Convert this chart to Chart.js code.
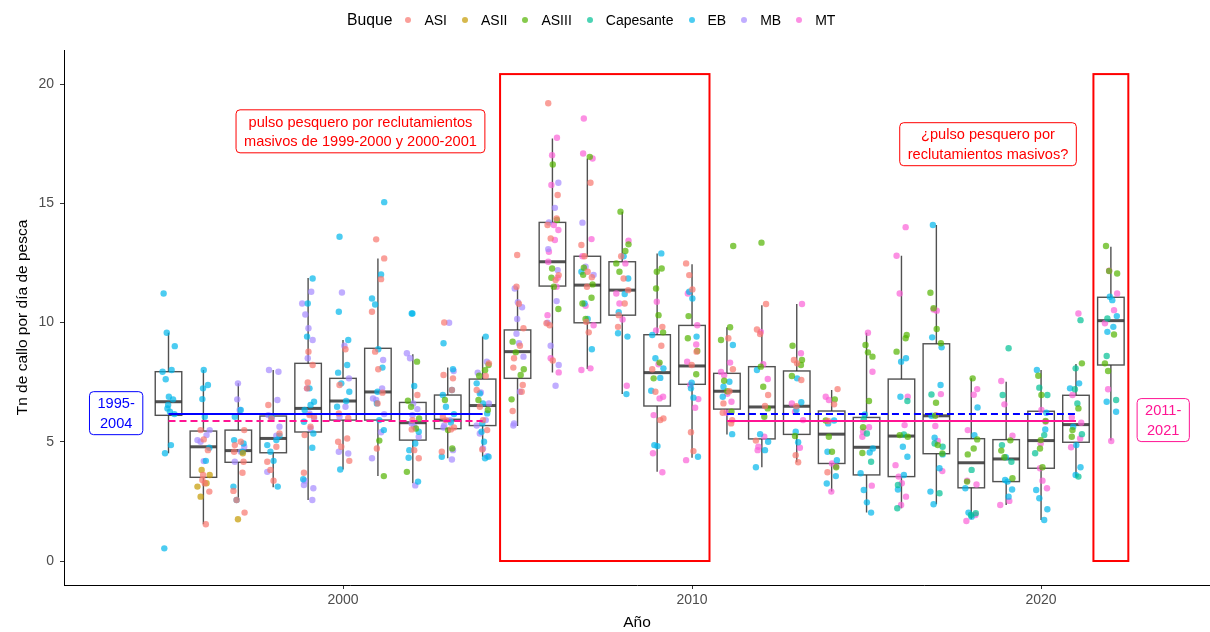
<!DOCTYPE html>
<html>
<head>
<meta charset="utf-8">
<script src="https://cdn.jsdelivr.net/npm/chart.js@4.4.1/dist/chart.umd.min.js"></script>
<style>
  body { margin: 0; background: #fff; font-family: "Liberation Sans", Arial, sans-serif; }
  #wrap { position: relative; width: 1210px; height: 632px; }
  #legend { position: absolute; top: 11px; left: 347px; display: flex; align-items: center; font-size: 14px; color: #000; white-space: nowrap; }
  #legend .ttl { margin-right: 13px; font-size: 15.7px; }
  #legend .dot { width: 6px; height: 6px; border-radius: 50%; margin-right: 13px; }
  #legend .lab { margin-right: 15px; }
</style>
</head>
<body>
<div id="wrap">
  <canvas id="chart" width="1210" height="632"></canvas>
  <div id="legend"></div>
</div>
<script>
// --- datos ---
const VESSELS = ['ASI', 'ASII', 'ASIII', 'Capesante', 'EB', 'MB', 'MT'];
const COLORS = ['#F8766D', '#C49A00', '#53B400', '#00C094', '#00B6EB', '#A58AFF', '#FB61D7'];

const YEARS = [1995,1996,1997,1998,1999,2000,2001,2002,2003,2004,2005,2006,2007,2008,2009,2010,2011,2012,2013,2014,2015,2016,2017,2018,2019,2020,2021,2022];
const W_LO = [4.52,1.54,2.56,3.09,2.56,3.84,3.56,3.26,4.31,4.37,5.66,7.91,8.05,7.0,3.74,4.33,5.31,3.93,4.14,2.91,2.03,2.21,2.38,1.75,2.35,1.72,3.54,5.05];
const Q1 = [6.11,3.51,4.14,4.54,5.41,5.91,5.91,5.07,5.55,5.68,7.66,11.53,9.99,10.31,6.5,7.41,6.37,5.12,5.31,4.09,3.61,3.54,4.50,3.07,3.33,3.89,4.98,8.22];
const MED = [6.68,4.79,4.63,5.14,6.4,6.71,7.09,5.80,5.91,6.52,8.78,12.55,11.57,11.36,7.90,8.18,7.12,6.46,6.49,5.32,4.77,5.24,6.09,4.12,4.28,5.05,5.72,10.08];
const Q3 = [7.94,5.45,5.49,6.08,8.29,7.66,8.92,6.65,6.96,7.63,9.69,14.2,12.78,12.55,9.49,9.88,7.87,8.15,7.97,6.29,6.02,7.63,9.11,5.13,5.09,6.28,6.95,11.06];
const W_HI = [9.57,8.01,7.45,8.01,11.87,9.27,12.69,8.67,8.11,9.41,11.47,17.72,16.88,14.65,12.9,12.45,9.80,10.73,10.78,7.17,9.57,12.80,14.09,7.66,7.52,8.01,8.26,13.18];

const ASI = [
  [1996,[5.49,5.1,4.65,3.61,3.4,3.26,2.91,1.54]],
  [1997,[5.49,5.0,4.86,4.58,4.16,3.70,2.94,2.56,2.03]],
  [1998,[6.54,5.98,5.35,4.79,4.16,3.82,3.37]],
  [1999,[8.78,8.22,7.49,7.24,6.12,6.05,5.63,5.28,3.70]],
  [2000,[8.88,7.38,6.19,6.0,5.14,5.0,4.79,4.2]],
  [2001,[13.49,12.69,11.82,10.45,8.78,8.04,7.06,6.61,4.72]],
  [2002,[6.96,5.91,5.52,4.65,4.31]],
  [2003,[10.0,7.8,7.66,7.17,6.05,5.91,5.60,5.52,4.58]],
  [2004,[8.29,7.76,7.17,6.47,5.91,5.49,4.68]],
  [2005,[12.83,11.5,10.79,9.76,9.03,8.5,8.11,7.38,7.10,6.29]],
  [2006,[19.2,15.35,14.37,14.09,13.53,11.99,11.78,9.97,9.89,8.41]],
  [2007,[15.86,13.25,12.78,12.13,11.9,11.5,10.03,9.59]],
  [2008,[12.78,11.85,11.36,10.8,10.31,9.82]],
  [2009,[9.82,9.03,8.04,7.10,5.98,5.91]],
  [2010,[12.48,11.99,11.39,8.78,8.22,5.40,4.61]],
  [2011,[9.34,8.04,7.12,6.61,6.22,5.91,5.77]],
  [2012,[10.78,9.71,9.52,6.96,6.50,5.05]],
  [2013,[8.43,8.29,7.59,6.49,4.44,4.14]],
  [2014,[7.21,6.57,5.87,3.72]]
];
const ASII = [
  [1996,[3.82,3.61,3.26,3.12,2.70]],
  [1997,[4.52,1.75]]
];
const ASIII = [
  [2001,[5.05,3.56]],
  [2002,[8.36,6.72,6.47,5.98,5.56,3.74]],
  [2003,[6.75,5.49,4.72]],
  [2004,[8.22,8.0,7.77,6.75,6.33]],
  [2005,[9.2,8.75,8.04,7.8,6.78]],
  [2006,[16.63,14.3,12.27,11.88,11.5,10.57]],
  [2007,[16.95,12.3,12.0,11.6,11.04,10.8,10.15]],
  [2008,[14.65,13.28,13.0,12.48,12.13]],
  [2009,[12.27,12.13,11.43,10.31,9.59,8.32,7.66]],
  [2010,[10.27,9.34,8.81,7.83]],
  [2011,[13.21,9.80,9.27,7.56,7.12,6.26]],
  [2012,[13.35,8.15,7.31,6.40,6.05]],
  [2013,[9.03,8.43,8.22,7.76,5.24]],
  [2014,[6.78,5.89,5.21,4.58,3.93]],
  [2015,[9.06,8.75,8.57,6.71,5.61,4.53]],
  [2016,[9.48,9.34,8.78,5.28,5.21]],
  [2017,[11.25,10.6,9.73,9.13,6.64,6.09,4.86,4.51]],
  [2018,[7.66,5.10,4.72,4.47,3.33]],
  [2019,[5.06,4.63,4.35,3.47]],
  [2020,[7.77,6.96,5.87,5.07,4.72,3.93]],
  [2021,[8.29,6.40,5.49,5.21]],
  [2022,[13.21,12.16,12.06,9.5,8.29,7.97]]
];
const CAPESANTE = [
  [2015,[5.95,5.35,4.16]],
  [2016,[6.71,5.31,3.19,2.21]],
  [2017,[6.98,4.93,4.79,2.84]],
  [2018,[3.82,2.0,1.93]],
  [2019,[8.92,6.96,4.86,4.16]],
  [2020,[7.27,6.96,5.28,4.52]],
  [2021,[10.1,8.08,7.20,6.61,5.32,3.54]],
  [2022,[10.17,8.6,6.75]]
];
const EB = [
  [1995,[11.22,9.57,9.01,8.01,7.94,7.62,6.89,6.78,6.54,6.40,6.26,6.16,4.86,4.52,0.53]],
  [1996,[8.01,7.38,7.24,6.79,6.05,4.75,4.2]],
  [1997,[6.33,6.05,5.07,4.93,4.58,3.12,2.56]],
  [1998,[6.05,5.25,5.07,4.86,4.58,4.2,3.12]],
  [1999,[11.85,10.8,9.41,7.24,6.68,6.54,6.33,5.84,5.35,4.75,3.43]],
  [2000,[13.6,10.45,9.27,8.22,7.90,7.45,7.10,6.71,6.47,3.84]],
  [2001,[15.05,12.02,11.01,10.76,8.88,8.11,7.10,6.61,5.91,5.49]],
  [2002,[10.38,10.38,7.34,5.42,4.93,4.65,4.33,3.33]],
  [2003,[9.13,8.04,7.17,6.96,6.47,6.16,5.81,4.37]],
  [2004,[9.41,7.45,7.03,6.61,6.19,5.77,5.42,5.0,4.37,4.31]],
  [2007,[12.13,10.8,10.15,8.88]],
  [2008,[12.78,11.85,11.2,10.43,9.55,9.41,7.0]],
  [2009,[12.9,9.48,8.5,8.08,7.68,7.14,4.86,4.82]],
  [2010,[11.29,11.01,9.41,7.48,7.24,6.85,4.37]],
  [2011,[9.06,7.52,7.31,6.89,5.32]],
  [2012,[8.01,5.32,5.0,4.65,3.93]],
  [2013,[7.66,6.66,6.33,5.42,4.98]],
  [2014,[5.89,5.77,4.58,4.23,3.56,3.25]],
  [2015,[6.15,4.72,4.55,3.68,2.98,2.46,2.03]],
  [2016,[8.5,8.36,6.89,4.79,4.37,3.61,3.0]],
  [2017,[14.09,9.38,8.96,7.38,6.09,5.17,4.47,3.89,2.91,2.38]],
  [2018,[6.44,5.28,3.05,2.03,1.86]],
  [2019,[4.35,3.40,3.33,3.0,2.70]],
  [2020,[8.01,6.22,5.52,2.98,2.63,2.17,1.72]],
  [2021,[7.45,7.24,5.63,4.86,3.93,3.61]],
  [2022,[11.08,10.94,10.27,9.82,9.61,6.68,6.26]]
];
const MB = [
  [1996,[5.49,5.28,5.07,5.0,4.19]],
  [1997,[7.45,6.78,6.33,4.79,4.58,4.16]],
  [1998,[8.01,7.94,6.75,6.12,5.98,5.63,5.25,3.74]],
  [1999,[11.29,10.8,10.34,9.76,9.27,8.5,7.24,6.19,5.98,5.56,3.37,3.19,3.05,2.56]],
  [2000,[11.26,9.03,7.66,6.47,6.05,4.58,4.51]],
  [2001,[8.43,7.24,6.82,6.75,6.16,5.40,4.31]],
  [2002,[8.71,8.5,6.61,6.37,6.12,5.77,5.63,5.21,3.17]],
  [2003,[9.99,7.97,5.91,5.68,5.60,4.65,4.26]],
  [2004,[8.36,7.90,7.07,6.61,5.91,5.68,5.35,4.72,4.40]],
  [2005,[11.43,10.85,10.64,10.15,9.53,9.13,8.57,7.10,5.77,5.68]],
  [2006,[15.86,14.81,14.2,13.08,12.2,10.9,9.99,9.03,8.22,7.35]],
  [2007,[14.19,12.34,12.0]]
];
const MT = [
  [2006,[17.75,17.02,15.77,14.09,13.88,13.46,12.97,12.55,11.88,11.5,10.31,8.5,7.91]],
  [2007,[18.56,17.09,16.88,13.5,12.78,10.7,9.89,8.08,8.01]],
  [2008,[13.43,12.48,11.22,10.8,10.13,7.35]],
  [2009,[10.87,9.67,8.25,6.89,6.82,6.12,4.52,3.72]],
  [2010,[11.22,9.89,9.08,8.36,7.38,6.79,6.43,4.23]],
  [2011,[8.32,7.93,7.79,7.01,6.68,6.22]],
  [2012,[9.61,8.25,7.63,5.21,4.79,4.65]],
  [2013,[10.78,8.71,6.61,6.26,5.91,4.75]],
  [2014,[6.89,6.75,4.09,3.97,2.91]],
  [2015,[9.57,7.94,5.61,5.42,5.21,3.16]],
  [2016,[14.0,12.80,11.22,6.89,5.70,4.02,3.54,3.26,2.70,2.35]],
  [2017,[10.55,10.5,7.0,6.12,5.66,5.03,3.77]],
  [2018,[7.21,6.97,5.49,3.37,3.21,1.93,1.68]],
  [2019,[7.55,6.57,5.25,2.52,2.35]],
  [2020,[6.33,5.84,4.93,3.89,3.37,3.05]],
  [2021,[10.38,6.96,6.02,5.80,5.14,4.77]],
  [2022,[12.17,11.22,10.52,9.97,7.20,5.03]]
];
const SERIES = [ASI, ASII, ASIII, CAPESANTE, EB, MB, MT];

// desplazamiento horizontal fijo (jitter) de los puntos, en años
const JITTER = [-0.12, 0.09, -0.03, 0.15, -0.17, 0.04, 0.12, -0.08, 0.17, -0.14, 0.01, 0.07, -0.05, 0.13, -0.1, 0.18, -0.01];

// promedios por periodo
const PERIOD_A = [1995, 2004];
const PERIOD_B = [2011, 2021];
const MEAN_A = 6.17;
const MEAN_B = 5.87;

// rectangulos rojos (años) y su altura
const RECT_SPANS = [[2004.5, 2010.5], [2021.5, 2022.5]];
const RECT_TOP = 20.42;

// etiquetas
const LABEL_TEXT = [
  ['pulso pesquero por reclutamientos', 'masivos de 1999-2000 y 2000-2001'],
  ['¿pulso pesquero por', 'reclutamientos masivos?'],
  ['1995-', '2004'],
  ['2011-', '2021']
];
const LABEL_X = [2000.5, 2018.48, 1993.5, 2023.5];
const LABEL_Y = [18.02, 17.48, 6.2, 5.91];
const LABEL_COLOR = ['#FF0000', '#FF0000', '#0000FF', '#FF1493'];

const X_TICKS = [2000, 2010, 2020];
const Y_TICKS = [0, 5, 10, 15, 20];

const BOX_W = 0.76;
const FONT = '"Liberation Sans", Arial, sans-serif';

function hexA(hex, a) {
  const n = parseInt(hex.slice(1), 16);
  return 'rgba(' + (n >> 16) + ',' + ((n >> 8) & 255) + ',' + (n & 255) + ',' + a + ')';
}

// leyenda
const legend = document.getElementById('legend');
legend.innerHTML = '<span class="ttl">Buque</span>' + VESSELS.map(function (v, k) {
  return '<span class="dot" style="background:' + hexA(COLORS[k], 0.7) + '"></span><span class="lab">' + v + '</span>';
}).join('');

function meanLine(period, yv, color, dash) {
  return {
    type: 'line', data: [{ x: period[0], y: yv }, { x: period[1], y: yv }],
    borderColor: color, borderWidth: 2, borderDash: dash, pointRadius: 0, pointHoverRadius: 0, fill: false
  };
}

const datasets = [
  meanLine(PERIOD_A, MEAN_A, '#0000FF', []),
  meanLine(PERIOD_A, MEAN_B, '#FF1493', [7, 4]),
  meanLine(PERIOD_B, MEAN_A, '#0000FF', [7, 4]),
  meanLine(PERIOD_B, MEAN_B, '#FF1493', [])
];
VESSELS.forEach(function (name, k) {
  const pts = [];
  SERIES[k].forEach(function (row) {
    const yr = row[0];
    row[1].forEach(function (v, i) {
      pts.push({ x: yr + JITTER[(i * 3 + k * 5 + yr) % JITTER.length], y: v });
    });
  });
  datasets.push({
    type: 'scatter', label: name, data: pts,
    backgroundColor: hexA(COLORS[k], 0.7), borderWidth: 0,
    pointRadius: 3.2, pointHoverRadius: 3.2
  });
});

const boxPlugin = {
  id: 'boxes',
  beforeDatasetsDraw(chart) {
    const { ctx, scales: { x, y } } = chart;
    ctx.save();
    ctx.strokeStyle = 'rgba(51,51,51,0.85)';
    YEARS.forEach(function (yr, i) {
      const xl = x.getPixelForValue(yr - BOX_W / 2);
      const xr = x.getPixelForValue(yr + BOX_W / 2);
      const xc = x.getPixelForValue(yr);
      ctx.lineWidth = 1.4;
      ctx.beginPath();
      ctx.moveTo(xc, y.getPixelForValue(W_HI[i])); ctx.lineTo(xc, y.getPixelForValue(Q3[i]));
      ctx.moveTo(xc, y.getPixelForValue(Q1[i])); ctx.lineTo(xc, y.getPixelForValue(W_LO[i]));
      ctx.stroke();
      ctx.strokeRect(xl, y.getPixelForValue(Q3[i]), xr - xl, y.getPixelForValue(Q1[i]) - y.getPixelForValue(Q3[i]));
      ctx.lineWidth = 3;
      ctx.beginPath();
      ctx.moveTo(xl, y.getPixelForValue(MED[i])); ctx.lineTo(xr, y.getPixelForValue(MED[i]));
      ctx.stroke();
    });
    ctx.restore();
  }
};

const overlayPlugin = {
  id: 'overlay',
  afterDatasetsDraw(chart) {
    const { ctx, scales: { x, y } } = chart;
    ctx.save();
    ctx.strokeStyle = '#FF0000';
    ctx.lineWidth = 2;
    RECT_SPANS.forEach(function (s) {
      const x0 = x.getPixelForValue(s[0]), x1 = x.getPixelForValue(s[1]);
      const y0 = y.getPixelForValue(RECT_TOP), y1 = y.getPixelForValue(0);
      ctx.strokeRect(x0, y0, x1 - x0, y1 - y0);
    });
    ctx.font = '14.6px ' + FONT;
    ctx.textAlign = 'center';
    ctx.textBaseline = 'middle';
    const lineH = 19.5, padX = 8, padY = 2;
    LABEL_TEXT.forEach(function (lines, i) {
      const cx = x.getPixelForValue(LABEL_X[i]), cy = y.getPixelForValue(LABEL_Y[i]);
      const w = Math.max.apply(null, lines.map(function (t) { return ctx.measureText(t).width; })) + 2 * padX;
      const h = lines.length * lineH + 2 * padY;
      ctx.beginPath();
      ctx.roundRect(cx - w / 2, cy - h / 2, w, h, 4);
      ctx.fillStyle = '#fff';
      ctx.fill();
      ctx.lineWidth = 1;
      ctx.strokeStyle = LABEL_COLOR[i];
      ctx.stroke();
      ctx.fillStyle = LABEL_COLOR[i];
      lines.forEach(function (t, j) {
        ctx.fillText(t, cx, cy - h / 2 + padY + lineH * (j + 0.5) + 1);
      });
    });
    ctx.restore();
  }
};

new Chart(document.getElementById('chart'), {
  data: { datasets: datasets },
  plugins: [boxPlugin, overlayPlugin],
  options: {
    responsive: false, animation: false, devicePixelRatio: 1,
    layout: { autoPadding: false, padding: { top: 50, left: 0, right: 0, bottom: 0 } },
    plugins: { legend: { display: false }, tooltip: { enabled: false } },
    scales: {
      x: {
        type: 'linear', min: 1992.006, max: 2024.84,
        afterBuildTicks: function (s) { s.ticks = X_TICKS.map(function (v) { return { value: v }; }); },
        afterFit: function (s) { s.height = 47; },
        grid: { drawOnChartArea: false, drawTicks: true, tickLength: 4, color: '#333' },
        border: { color: '#000', width: 1 },
        ticks: { font: { size: 14, family: FONT }, color: '#4d4d4d', padding: 3, maxRotation: 0, autoSkip: false, callback: function (v) { return String(v); } },
        title: { display: true, text: 'Año', color: '#000', font: { size: 15.5, family: FONT }, padding: { top: 0, bottom: 0 } }
      },
      y: {
        type: 'linear', min: -1.006, max: 21.43,
        afterBuildTicks: function (s) { s.ticks = Y_TICKS.map(function (v) { return { value: v }; }); },
        afterFit: function (s) { s.width = 64; },
        grid: { drawOnChartArea: false, drawTicks: true, tickLength: 4, color: '#333' },
        border: { color: '#000', width: 1 },
        ticks: { font: { size: 14, family: FONT }, color: '#4d4d4d', padding: 6 },
        title: { display: true, text: 'Tn de callo por día de pesca', color: '#000', font: { size: 15.5, family: FONT }, padding: { top: 13, bottom: 0 } }
      }
    }
  }
});
</script>
</body>
</html>
